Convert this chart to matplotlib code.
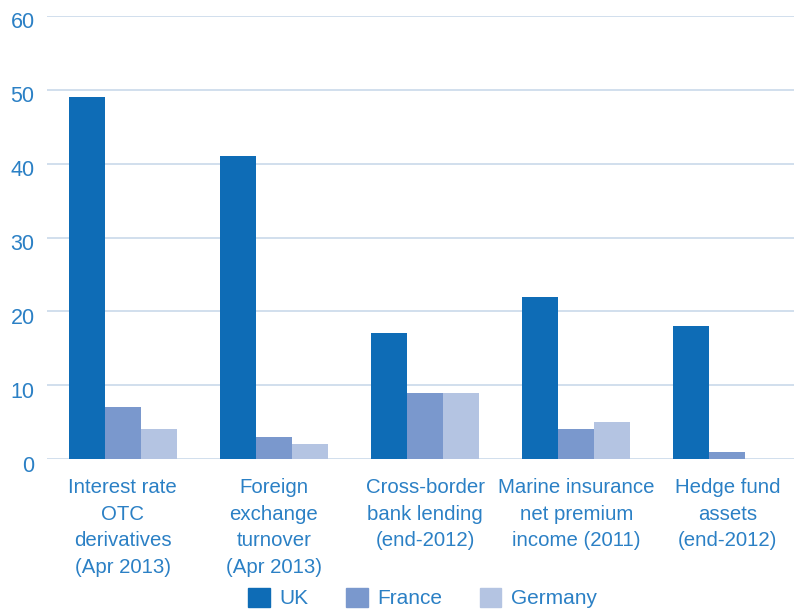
import numpy as np
import matplotlib
matplotlib.use("Agg")
import matplotlib.pyplot as plt
import matplotlib.transforms as mtransforms
from matplotlib.patches import Patch

plt.rcParams["font.family"] = ["Liberation Sans", "DejaVu Sans"]

categories = [
    "Interest rate\nOTC\nderivatives\n(Apr 2013)",
    "Foreign\nexchange\nturnover\n(Apr 2013)",
    "Cross-border\nbank lending\n(end-2012)",
    "Marine insurance\nnet premium\nincome (2011)",
    "Hedge fund\nassets\n(end-2012)",
]
uk = [49, 41, 17, 22, 18]
france = [7, 3, 9, 4, 1]
germany = [4, 2, 9, 5, 0]

series = [("UK", uk, "#0e6cb6"), ("France", france, "#7a98cd"),
          ("Germany", germany, "#b4c4e2")]
text_col = "#2b80c5"
grid_col = "#c9d9ea"

fig = plt.figure(figsize=(7.94, 6.13), dpi=100)
ax = fig.add_axes([0.0592, 0.2512, 0.9408, 0.7227])

x = np.arange(len(categories))
w = 0.238
for i, (name, vals, col) in enumerate(series):
    ax.bar(x - w + i * w, vals, width=w, color=col, zorder=3, linewidth=0)

ax.set_ylim(0, 60)
ax.set_xlim(-0.5, 4.44)
ax.set_yticks(range(0, 61, 10))
ax.yaxis.grid(True, color=grid_col, linewidth=1.2, zorder=0)
ax.set_axisbelow(True)
for s in ax.spines.values():
    s.set_visible(False)
ax.tick_params(axis="both", length=0, labelcolor=text_col)
ax.tick_params(axis="y", pad=9, labelsize=15.5)
ax.tick_params(axis="x", pad=14, labelsize=14.7)
ax.set_xticks(x)
ax.set_xticklabels(categories, linespacing=1.5)

# y labels sit a little below their gridlines
shift = mtransforms.ScaledTranslation(0, -7 / 100, fig.dpi_scale_trans)
for lbl in ax.get_yticklabels():
    lbl.set_verticalalignment("center")
    lbl.set_transform(lbl.get_transform() + shift)

handles = [Patch(color=c, label=n) for n, _, c in series]
leg = fig.legend(handles=handles, loc="center", ncol=3, frameon=False,
                 bbox_to_anchor=(0.532, 0.0245), fontsize=15, handlelength=1.05,
                 handleheight=1.05, columnspacing=1.8, handletextpad=0.45,
                 borderpad=0)
for t in leg.get_texts():
    t.set_color(text_col)

fig.savefig("out.png", dpi=100)
